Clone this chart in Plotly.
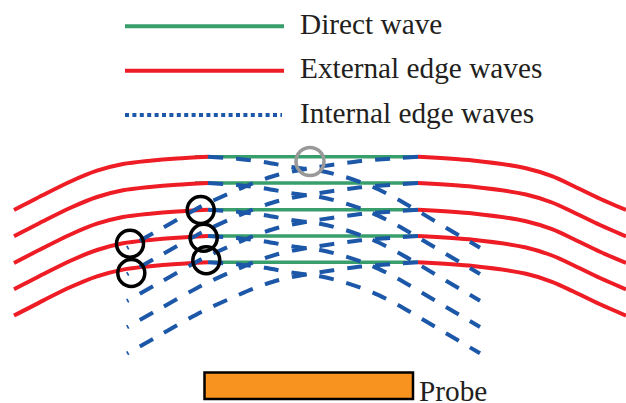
import plotly.graph_objects as go

# --- Legend / labels
legend_labels = ["Direct wave", "External edge waves", "Internal edge waves"]
legend_x = [125, 284]
legend_blue_x = [125, 282]
legend_y = [26.3, 70.7, 115]
legend_text_y = [23.5, 67.5, 112.5]
probe_label = "Probe"

# --- Wavefront rows (one y per front, top to bottom)
row_y = [156.7, 183.0, 209.7, 236.0, 262.3]

# --- Direct wave segments
direct_x0 = [195, 195, 209, 209, 209]
direct_x1 = 418

# --- External edge waves (offset from each row)
red_left_x = [14, 43, 70, 97, 123, 150, 177, 208]
red_left_dy = [53.3, 38.3, 25, 14, 7.3, 4, 1.7, 0]
red_right_x = [418, 473, 526, 552, 573, 600, 626]
red_right_dy = [0, 3.7, 11.5, 19.5, 29, 42, 53.3]

# --- Internal edge waves (offset from each row, drawn from the front outwards)
blue_a_x = [418, 390, 361, 333, 307, 278, 253, 227, 202, 163, 127]
blue_a_dy = [0, 2, 4.3, 8, 12, 18, 26.5, 37.7, 49.3, 71, 91.3]
blue_b_x = [208, 237, 265, 293, 320, 346, 373, 398, 422, 446, 480]
blue_b_dy = [0, 2, 5.5, 10.5, 14, 20.5, 30.3, 42.7, 56.7, 71, 91]

# --- Circles
black_x = [200.7, 130, 131.3, 203.7, 206.3]
black_y = [210, 243.7, 273, 237.7, 260.3]
gray_x = [310]
gray_y = [161.5]

# --- Probe box
probe_x = [204.5, 413]
probe_y = [372.5, 399]

GREEN, RED, BLUE = "#389e6b", "#ee1c25", "#1c57a8"
INK = "#231f20"
FONT = "Liberation Serif"

fig = go.Figure()


def line(x, y, color, width, dash="solid", shape="linear"):
    fig.add_trace(go.Scatter(x=x, y=y, mode="lines", hoverinfo="skip",
                             line=dict(color=color, width=width, dash=dash, shape=shape, smoothing=0.8)))


for x0, y in zip(direct_x0, row_y):
    line([x0, direct_x1], [y, y], GREEN, 3.5)
for y in row_y:
    line(red_left_x, [y + d for d in red_left_dy], RED, 4, shape="spline")
    line(red_right_x, [y + d for d in red_right_dy], RED, 4, shape="spline")
for y in row_y:
    line(blue_a_x, [y + d for d in blue_a_dy], BLUE, 4, dash="15px,13px", shape="spline")
    line(blue_b_x, [y + d for d in blue_b_dy], BLUE, 4, dash="15px,13px", shape="spline")

fig.add_trace(go.Scatter(x=black_x, y=black_y, mode="markers", hoverinfo="skip",
                         marker=dict(symbol="circle-open", size=27, color="black", line=dict(width=3.5, color="black"))))
fig.add_trace(go.Scatter(x=gray_x, y=gray_y, mode="markers", hoverinfo="skip",
                         marker=dict(symbol="circle-open", size=28, color="#999999", line=dict(width=3.5, color="#999999"))))

line(legend_x, [legend_y[0]] * 2, GREEN, 4)
line(legend_x, [legend_y[1]] * 2, RED, 4)
line(legend_blue_x, [legend_y[2]] * 2, BLUE, 4, dash="4px,3.4px")

fig.add_shape(type="rect", x0=probe_x[0], x1=probe_x[1], y0=probe_y[0], y1=probe_y[1],
              fillcolor="#f7931e", line=dict(color="black", width=2.5))

for label, y in zip(legend_labels, legend_text_y):
    fig.add_annotation(x=298, y=y, text=label, showarrow=False, xanchor="left", yanchor="middle",
                       font=dict(family=FONT, size=29.3, color=INK))
fig.add_annotation(x=416.5, y=391, text=probe_label, showarrow=False, xanchor="left", yanchor="middle",
                   font=dict(family=FONT, size=29.3, color=INK))

fig.update_layout(
    width=626, height=403, margin=dict(l=0, r=0, t=0, b=0), showlegend=False,
    paper_bgcolor="white", plot_bgcolor="white",
    xaxis=dict(range=[0, 626], visible=False, fixedrange=True),
    yaxis=dict(range=[403, 0], visible=False, fixedrange=True),
)
fig.write_html("out.html", config={"displayModeBar": False},
               post_script="document.body.style.margin='0';document.body.style.overflow='hidden';")
